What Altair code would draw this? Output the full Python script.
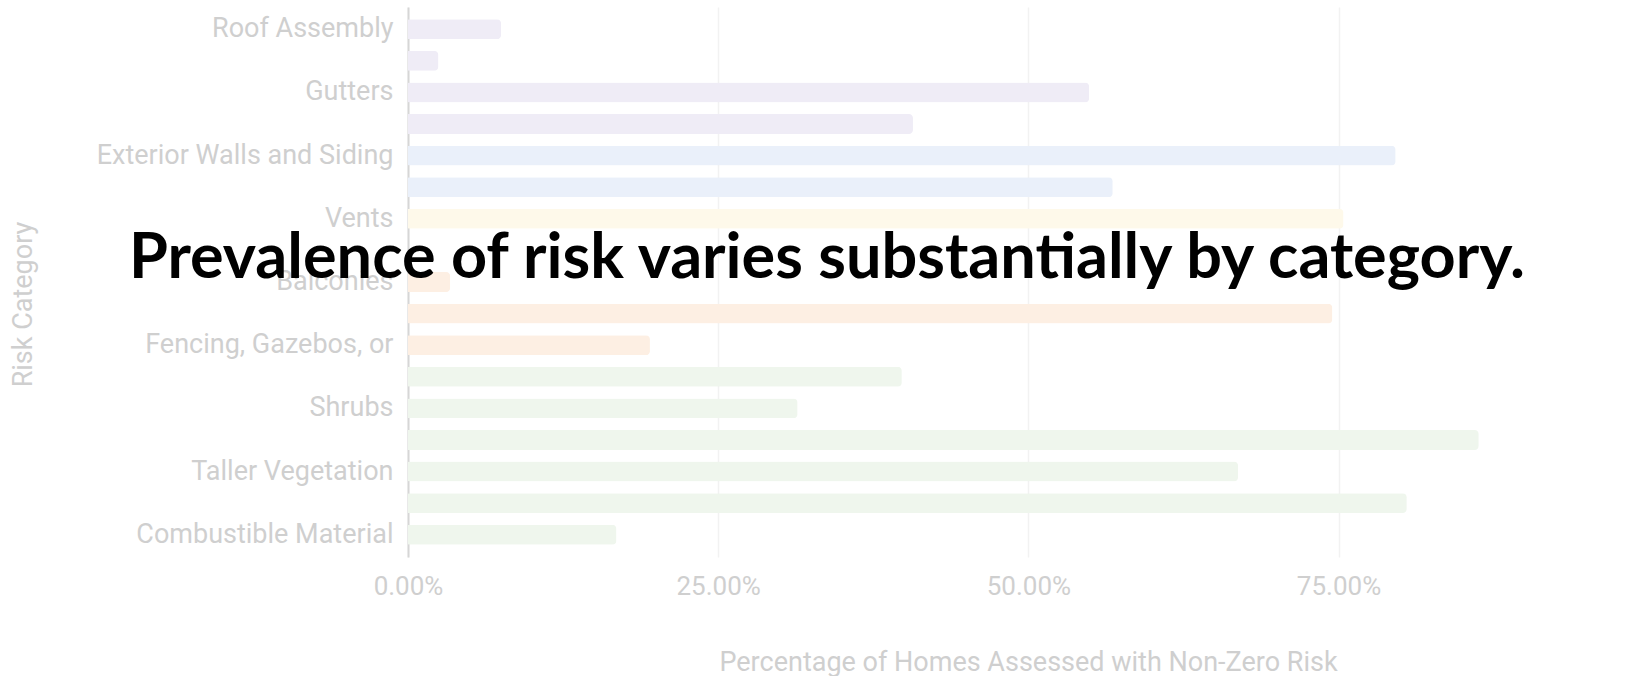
import json
import altair as alt
import pandas as pd

categories = [
    "Roof Assembly", "Roof Debris", "Gutters", "Eaves and Soffits",
    "Exterior Walls and Siding", "Windows and Doors", "Vents", "Chimneys",
    "Balconies", "Decks", "Fencing, Gazebos, or", "Ground Cover",
    "Shrubs", "Grasses", "Taller Vegetation", "Tree Canopy",
    "Combustible Material",
]
values = [0.075, 0.0245, 0.549, 0.407, 0.796, 0.568, 0.754, 0.0,
          0.034, 0.745, 0.195, 0.398, 0.314, 0.863, 0.669, 0.805, 0.168]
groups = ["Roof", "Roof", "Roof", "Roof", "Walls", "Walls", "Vents", "Vents",
          "Attached", "Attached", "Attached", "Vegetation", "Vegetation",
          "Vegetation", "Vegetation", "Vegetation", "Vegetation"]
shown_labels = ["Roof Assembly", "Gutters", "Exterior Walls and Siding", "Vents",
                "Balconies", "Fencing, Gazebos, or", "Shrubs",
                "Taller Vegetation", "Combustible Material"]
group_names = ["Roof", "Walls", "Vents", "Attached", "Vegetation"]
group_colors = ["#efecf6", "#eaf0fa", "#fef9ea", "#fdefe3", "#eff6ed"]
x_ticks = [0, 0.25, 0.5, 0.75]
title_text = "Prevalence of risk varies substantially by category."

df = pd.DataFrame({"category": categories, "value": values, "group": groups})
label_expr = "indexof(" + json.dumps(shown_labels) + ", datum.label) >= 0 ? datum.label : ''"

AX = "#cfcfcf"

bars = alt.Chart(df).mark_bar(cornerRadiusEnd=4).encode(
    x=alt.X(
        "value:Q",
        scale=alt.Scale(domain=[0, 0.997], nice=False, zero=True),
        axis=alt.Axis(
            values=x_ticks, format=".2%",
            title="Percentage of Homes Assessed with Non-Zero Risk",
            grid=True, gridColor="#f2f2f2", gridWidth=1.5,
            domain=False, ticks=False, labelFlush=False,
            labelFont="Roboto", labelFontSize=26, labelColor=AX,
            labelPadding=29, labelBaseline="middle",
            titleFont="Roboto", titleFontSize=27, titleColor=AX,
            titleFontWeight="normal", titleX=620, titleY=105,
            titleBaseline="middle",
        ),
    ),
    y=alt.Y(
        "category:N", sort=categories,
        scale=alt.Scale(paddingInner=0.37, paddingOuter=0.39),
        axis=alt.Axis(
            labelExpr=label_expr, ticks=False, grid=False,
            domainColor="#d6d6d6", domainWidth=2,
            labelFont="Roboto", labelFontSize=27, labelColor=AX,
            labelPadding=15, labelLimit=500,
            title="Risk Category",
            titleFont="Roboto", titleFontSize=27, titleColor=AX,
            titleFontWeight="normal", titleAngle=270,
            titleX=-385, titleY=297, titleBaseline="middle",
        ),
    ),
    color=alt.Color("group:N", scale=alt.Scale(domain=group_names, range=group_colors),
                    legend=None),
)

title_layer = alt.Chart(pd.DataFrame({"t": [title_text]})).mark_text(
    font="Lato", fontWeight="bold", fontSize=63, color="#000000",
    align="center", baseline="alphabetic",
).encode(
    text="t:N",
    x=alt.value(419),
    y=alt.value(271),
)

chart = alt.layer(bars, title_layer).properties(
    width=1237, height=550,
    autosize=alt.AutoSizeParams(type="none"),
    padding={"left": 408, "top": 7, "right": 0, "bottom": 119},
    background="white",
).configure_view(stroke=None)

chart.save("out.html", embed_options={"renderer": "svg", "actions": False})
